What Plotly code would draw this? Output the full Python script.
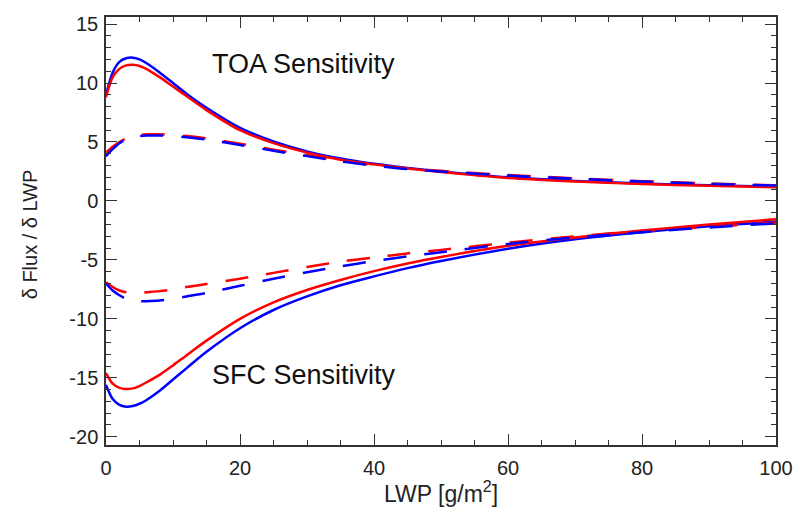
import plotly.graph_objects as go

lwp = [0, 1, 2, 3, 4, 5, 6, 8, 10, 12, 15, 20, 25, 30, 35, 40, 45, 50, 60, 70, 80, 90, 100]

toa_solid_blue = [9.0, 10.9, 11.8, 12.1, 12.15, 12.0, 11.7, 10.9, 10.0, 9.1, 7.9, 6.2, 5.05, 4.2, 3.6, 3.15, 2.8, 2.5, 2.0, 1.7, 1.48, 1.32, 1.2]
toa_solid_red = [8.8, 10.5, 11.2, 11.5, 11.55, 11.45, 11.2, 10.5, 9.7, 8.9, 7.7, 6.0, 4.9, 4.1, 3.5, 3.1, 2.75, 2.45, 1.95, 1.65, 1.43, 1.28, 1.15]
toa_dash_blue = [3.8, 4.4, 4.9, 5.2, 5.4, 5.5, 5.55, 5.55, 5.5, 5.4, 5.2, 4.75, 4.25, 3.8, 3.35, 3.0, 2.7, 2.5, 2.15, 1.88, 1.65, 1.45, 1.3]
toa_dash_red = [4.1, 4.6, 5.0, 5.3, 5.5, 5.6, 5.65, 5.65, 5.6, 5.5, 5.3, 4.85, 4.35, 3.9, 3.45, 3.05, 2.75, 2.55, 2.2, 1.92, 1.68, 1.48, 1.33]

sfc_solid_blue = [-15.6, -16.8, -17.3, -17.45, -17.4, -17.2, -16.9, -16.1, -15.15, -14.2, -12.8, -10.8, -9.25, -8.1, -7.15, -6.4, -5.7, -5.1, -4.05, -3.25, -2.65, -2.15, -1.75]
sfc_solid_red = [-14.6, -15.5, -15.85, -15.95, -15.9, -15.7, -15.4, -14.75, -13.95, -13.1, -11.85, -10.0, -8.6, -7.55, -6.7, -5.95, -5.3, -4.75, -3.8, -3.1, -2.5, -2.0, -1.55]
sfc_dash_blue = [-7.0, -7.6, -8.0, -8.3, -8.45, -8.5, -8.5, -8.45, -8.3, -8.1, -7.8, -7.2, -6.6, -6.05, -5.55, -5.1, -4.7, -4.35, -3.65, -3.1, -2.65, -2.25, -1.9]
sfc_dash_red = [-6.9, -7.3, -7.6, -7.75, -7.8, -7.8, -7.75, -7.65, -7.5, -7.3, -7.05, -6.6, -6.1, -5.6, -5.15, -4.8, -4.45, -4.15, -3.55, -3.0, -2.55, -2.2, -1.85]

x_ticks = [0, 20, 40, 60, 80, 100]
y_ticks = [15, 10, 5, 0, -5, -10, -15, -20]

BLUE = "#0000ff"
RED = "#ff0000"
DASH = "23px,18px"
FONT = "Liberation Sans, Arial, Helvetica, sans-serif"

fig = go.Figure()

series = [
    (toa_solid_blue, BLUE, "solid"),
    (toa_solid_red, RED, "solid"),
    (sfc_solid_blue, BLUE, "solid"),
    (sfc_solid_red, RED, "solid"),
    (toa_dash_red, RED, DASH),
    (toa_dash_blue, BLUE, DASH),
    (sfc_dash_red, RED, DASH),
    (sfc_dash_blue, BLUE, DASH),
]
for ys, col, dash in series:
    fig.add_trace(go.Scatter(x=lwp, y=ys, mode="lines",
                             line=dict(color=col, width=2.5, dash=dash, shape="spline", smoothing=0.8),
                             showlegend=False, hoverinfo="skip"))

axis_common = dict(
    showgrid=False, zeroline=False, showline=True, linecolor="#333", linewidth=1.5,
    mirror="allticks", ticks="inside", ticklen=11, tickwidth=1.2, tickcolor="#333",
    tickfont=dict(family=FONT, size=20, color="#222"),
)

fig.update_xaxes(range=[0, 100], tickvals=x_ticks, ticktext=[str(v) for v in x_ticks],
                 ticklabelstandoff=4,
                 minor=dict(ticks="inside", dtick=5, ticklen=5, tickcolor="#333", tickwidth=1),
                 **axis_common)
fig.update_yaxes(range=[-20.7, 15.6], tickvals=y_ticks, ticktext=[str(v) for v in y_ticks],
                 ticklabelstandoff=2,
                 minor=dict(ticks="inside", dtick=1, ticklen=5, tickcolor="#333", tickwidth=1),
                 **axis_common)

fig.add_annotation(x=15.5, y=11.6, text="TOA Sensitivity", showarrow=False, xanchor="left", yanchor="middle",
                   font=dict(family=FONT, size=27, color="#111"))
fig.add_annotation(x=15.5, y=-14.8, text="SFC Sensitivity", showarrow=False, xanchor="left", yanchor="middle",
                   font=dict(family=FONT, size=27, color="#111"))

fig.add_annotation(xref="paper", yref="paper", x=0.5, y=-0.109, text="LWP [g/m<sup>2</sup>]", showarrow=False,
                   xanchor="center", yanchor="middle", font=dict(family=FONT, size=23, color="#222"))
fig.add_annotation(xref="paper", yref="paper", x=-0.113, y=0.493, text="δ Flux / δ LWP", showarrow=False,
                   textangle=-90, xanchor="center", yanchor="middle", font=dict(family=FONT, size=20, color="#222"))

fig.update_layout(width=797, height=502, margin=dict(l=98, r=29, t=5, b=65),
                  paper_bgcolor="white", plot_bgcolor="white")

fig.write_html("out.html")
